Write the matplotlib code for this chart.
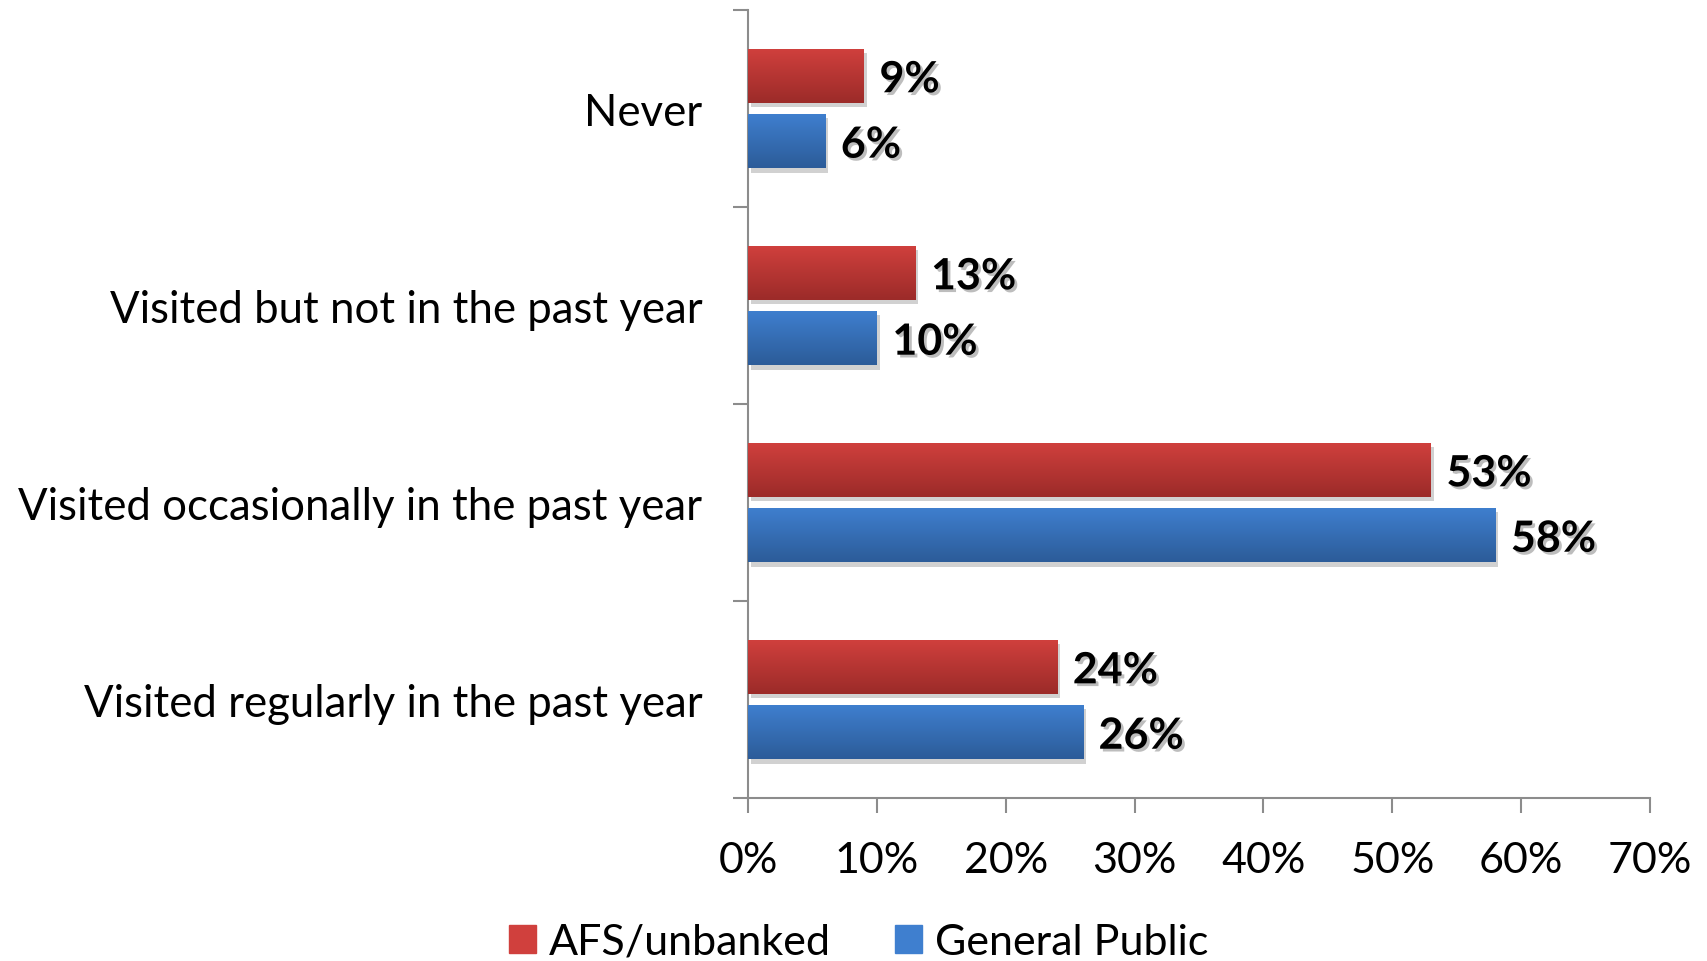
import numpy as np
import matplotlib
matplotlib.use("Agg")
import matplotlib.pyplot as plt
from matplotlib import patheffects as pe
from matplotlib.colors import LinearSegmentedColormap
from matplotlib.patches import Rectangle

categories = ["Never", "Visited but not in the past year",
              "Visited occasionally in the past year", "Visited regularly in the past year"]
series_names = ["AFS/unbanked", "General Public"]
afs_values = [9, 13, 53, 24]
public_values = [6, 10, 58, 26]
x_ticks = [0, 10, 20, 30, 40, 50, 60, 70]
x_tick_labels = ["0%", "10%", "20%", "30%", "40%", "50%", "60%", "70%"]

FONT = "Lato"
red_top, red_bottom = "#d0403d", "#9c2b29"
blue_top, blue_bottom = "#3f7fcf", "#2c5c99"
spine_gray = "#8c8c8c"

fig = plt.figure(figsize=(17.07, 9.62), dpi=100)
ax = fig.add_axes([0.4382, 0.1694, 0.9666 - 0.4382, 0.9886 - 0.1694])

y = np.arange(len(categories))
bar_h = 0.276
offset = 0.166

shadow = [pe.SimplePatchShadow(offset=(2, -3), shadow_rgbFace="#999999", alpha=0.45), pe.Normal()]


def gradient_bars(values, ypos, top, bottom):
    cmap = LinearSegmentedColormap.from_list("g", [top, bottom])
    bars = ax.barh(ypos, values, height=bar_h, color=top, path_effects=shadow, zorder=2)
    grad = np.linspace(0, 1, 64).reshape(-1, 1)
    for b in bars:
        x0, y0 = b.get_x(), b.get_y()
        w, h = b.get_width(), b.get_height()
        im = ax.imshow(grad, cmap=cmap, aspect="auto", interpolation="bicubic",
                       extent=(x0, x0 + w, y0 + h, y0), zorder=3)
        im.set_clip_path(b)
    return bars


gradient_bars(afs_values, y - offset, red_top, red_bottom)
gradient_bars(public_values, y + offset, blue_top, blue_bottom)

label_fx = [pe.SimplePatchShadow(offset=(2, -2), shadow_rgbFace="#888888", alpha=0.55), pe.Normal()]
for vals, off in ((afs_values, -offset), (public_values, offset)):
    for yi, v in zip(y, vals):
        ax.text(v + 1.2, yi + off, f"{v}%", va="center_baseline", ha="left",
                fontsize=31, fontweight="bold", family=FONT, color="black",
                path_effects=label_fx, zorder=4)

ax.set_xlim(0, 70)
ax.set_ylim(len(categories) - 0.5, -0.5)

ax.set_xticks(x_ticks)
ax.set_xticklabels(x_tick_labels, family=FONT, fontsize=31)
ax.set_yticks(y)
ax.set_yticklabels(categories, family=FONT, fontsize=31.5)
ax.set_yticks(np.arange(len(categories) + 1) - 0.5, minor=True)

ax.tick_params(axis="y", which="major", length=0, pad=33)
ax.tick_params(axis="y", which="minor", length=11, width=1.5, color=spine_gray, direction="out")
ax.tick_params(axis="x", which="major", length=11, width=1.5, color=spine_gray, direction="out", pad=20)

for s in ("top", "right"):
    ax.spines[s].set_visible(False)
for s in ("left", "bottom"):
    ax.spines[s].set_color(spine_gray)
    ax.spines[s].set_linewidth(1.5)

handles = [Rectangle((0, 0), 1, 1, color=red_top), Rectangle((0, 0), 1, 1, color=blue_top)]
fig.legend(handles, series_names, loc="center", bbox_to_anchor=(0.503, 0.02), ncol=2,
           frameon=False, prop={"family": FONT, "size": 31}, handlelength=0.62, handleheight=0.62,
           handletextpad=0.3, columnspacing=1.5)

fig.savefig("out.png", dpi=100)
